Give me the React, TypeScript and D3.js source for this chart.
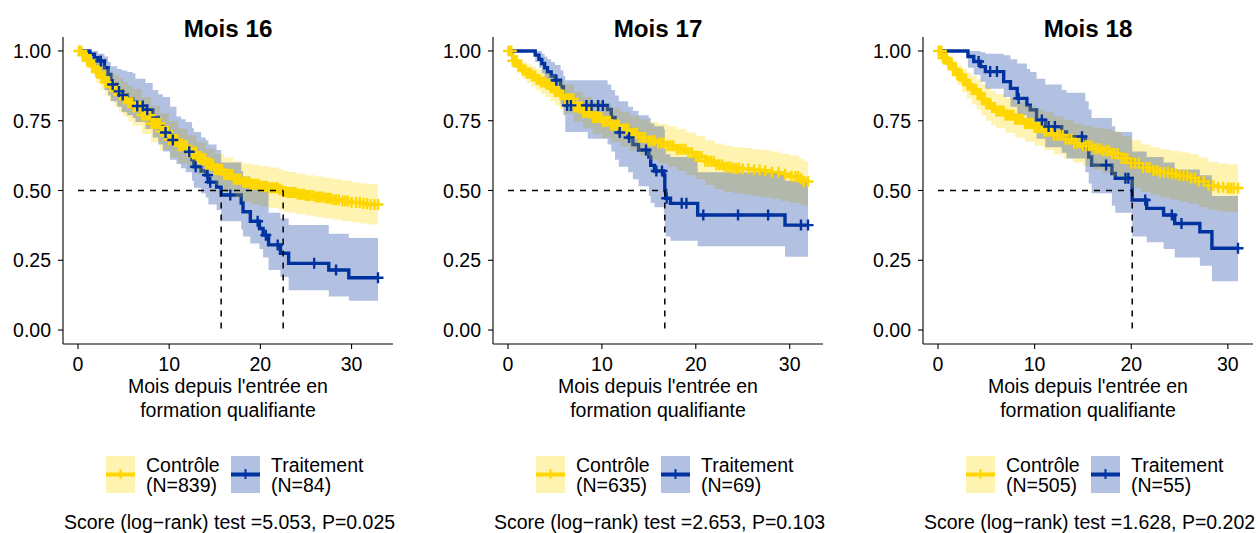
import React from 'react';
import * as d3 from 'd3';

// ---------- DATA ----------
const panelTitles = ['Mois 16', 'Mois 17', 'Mois 18'];
const ctrlN = [839, 635, 505];
const trtN = [84, 69, 55];
const testStat = ['5.053', '2.653', '1.628'];
const testP = ['0.025', '0.103', '0.202'];
const xTicks = [0, 10, 20, 30];
const yTicks = [0, 0.25, 0.5, 0.75, 1];
const yTickLabels = ['0.00', '0.25', '0.50', '0.75', '1.00'];
const groupLabels = ['Contrôle', 'Traitement'];

// Mois 16 - Contrôle
const m16CtrlTime = [0, 0.5, 1, 1.5, 2, 2.5, 3, 3.5, 4, 4.5, 5, 5.5, 6, 7, 8, 9, 10, 11, 12, 13, 14, 15, 16, 17, 18, 19, 20, 21, 22, 22.5, 23, 24, 25, 26, 27, 28, 29, 30, 31, 32];
const m16CtrlSurv = [1, .985, .965, .945, .925, .905, .888, .872, .858, .843, .828, .814, .8, .77, .74, .712, .683, .66, .637, .615, .594, .575, .557, .54, .53, .522, .515, .51, .503, .496, .493, .487, .482, .477, .472, .467, .462, .457, .453, .45];
const m16CtrlLow = [1, .975, .945, .915, .885, .86, .84, .82, .8, .782, .765, .748, .732, .702, .672, .645, .618, .597, .577, .558, .54, .52, .495, .475, .46, .45, .443, .437, .43, .424, .421, .415, .41, .405, .4, .395, .39, .386, .382, .378];
const m16CtrlUp = [1, .995, .985, .975, .962, .948, .935, .92, .912, .9, .888, .876, .864, .835, .805, .777, .748, .722, .698, .673, .65, .632, .618, .605, .597, .592, .587, .582, .576, .57, .566, .56, .555, .55, .545, .54, .535, .53, .525, .522];
const m16CtrlCens = [0.1, 0.2, 0.35, 0.5, 0.6, 0.75, 0.9, 1.0, 1.15, 1.3, 1.4, 1.55, 1.7, 1.85, 2.0, 2.15, 2.3, 2.45, 2.6, 2.7, 2.85, 3.0, 3.1, 3.25, 3.4, 3.55, 3.7, 3.85, 4.0, 4.15, 4.3, 4.45, 4.6, 4.75, 4.9, 5.05, 5.2, 5.35, 5.5, 5.65, 5.8, 5.95, 6.1, 6.25, 6.4, 6.55, 6.7, 6.85, 7.0, 7.15, 7.3, 7.45, 7.6, 7.75, 7.9, 8.05, 8.2, 8.35, 8.5, 8.65, 8.8, 8.95, 9.1, 9.25, 9.4, 9.55, 9.7, 9.85, 10.0, 10.15, 10.3, 10.45, 10.6, 10.75, 10.9, 11.05, 11.2, 11.35, 11.5, 11.65, 11.8, 11.95, 12.1, 12.25, 12.4, 12.6, 12.8, 12.95, 13.1, 13.25, 13.4, 13.6, 13.8, 13.95, 14.1, 14.3, 14.5, 14.65, 14.8, 15.0, 15.2, 15.4, 15.6, 15.8, 16.0, 16.2, 16.4, 16.65, 16.9, 17.1, 17.3, 17.55, 17.8, 18.1, 18.35, 18.6, 18.8, 19.0, 19.25, 19.5, 19.8, 20.05, 20.3, 20.5, 20.7, 21.0, 21.25, 21.5, 21.7, 21.9, 22.1, 22.3, 22.55, 22.8, 23.0, 23.2, 23.4, 23.6, 23.85, 24.1, 24.35, 24.6, 24.8, 25.0, 25.25, 25.5, 25.8, 26.1, 26.35, 26.6, 26.9, 27.2, 27.45, 27.7, 28.0, 28.3, 28.6, 29.0, 29.3, 29.6, 30.0, 30.5, 30.9, 31.3, 31.7, 32.1, 32.5, 32.9];
// Mois 16 - Traitement
const m16TrtTime = [0, 1.3, 1.8, 2.2, 2.9, 3.3, 3.6, 4.3, 4.8, 5.4, 6.0, 6.3, 7.4, 8.2, 8.8, 9.3, 10.1, 10.8, 11.3, 11.8, 12.5, 12.7, 13.5, 14.0, 14.3, 15.2, 15.7, 17.9, 18.1, 18.9, 19.9, 20.3, 20.9, 22.2, 23.1, 27.5, 29.7];
const m16TrtSurv = [1, .988, .976, .964, .94, .916, .88, .855, .842, .829, .816, .803, .789, .762, .735, .708, .681, .667, .653, .639, .61, .585, .57, .555, .53, .512, .484, .455, .424, .39, .364, .34, .305, .275, .239, .215, .1875];
const m16TrtLow = [1, .96, .935, .92, .86, .84, .82, .8, .78, .77, .76, .745, .72, .69, .665, .64, .61, .595, .58, .565, .535, .51, .49, .475, .45, .43, .39, .36, .335, .31, .29, .26, .215, .19, .143, .12, .105];
const m16TrtUp = [1, 1, 1, .99, .98, .96, .945, .935, .93, .925, .92, .9, .885, .86, .845, .835, .8, .765, .755, .745, .725, .71, .69, .68, .665, .645, .6, .57, .55, .53, .52, .5, .42, .4, .376, .345, .33];
const m16TrtCens = [2.5, 3.8, 4.5, 4.9, 6.5, 7.1, 7.6, 9.6, 10.4, 12.2, 12.9, 14.2, 14.5, 16.7, 19.7, 20.6, 21.9, 25.9, 28.3, 32.9];

// Mois 17 - Contrôle
const m17CtrlTime = [0, 0.5, 1, 1.5, 2, 2.5, 3, 3.5, 4, 4.5, 5, 5.5, 6, 7, 8, 9, 10, 11, 12, 13, 14, 15, 16, 17, 18, 19, 20, 21, 22, 23, 24, 25, 26, 27, 28, 29, 30, 31, 31.5];
const m17CtrlSurv = [1, .965, .945, .932, .92, .91, .898, .889, .88, .868, .855, .842, .828, .8, .78, .762, .748, .735, .72, .705, .69, .678, .67, .66, .648, .636, .622, .605, .592, .584, .58, .577, .574, .571, .565, .558, .55, .542, .532];
const m17CtrlLow = [1, .945, .92, .9, .885, .872, .858, .846, .835, .82, .805, .79, .775, .745, .722, .702, .688, .673, .658, .642, .625, .61, .598, .585, .57, .555, .54, .52, .505, .495, .49, .485, .48, .475, .47, .462, .455, .45, .445];
const m17CtrlUp = [1, .985, .97, .96, .952, .945, .935, .93, .922, .914, .902, .892, .88, .855, .836, .82, .806, .795, .782, .768, .755, .745, .738, .73, .72, .708, .695, .68, .668, .66, .655, .652, .648, .645, .64, .632, .625, .615, .605];
const m17CtrlCens = [0.05, 0.2, 0.35, 0.5, 0.65, 0.8, 0.95, 1.1, 1.25, 1.4, 1.55, 1.7, 1.85, 2.0, 2.15, 2.3, 2.45, 2.6, 2.75, 2.9, 3.05, 3.2, 3.35, 3.5, 3.65, 3.8, 3.95, 4.1, 4.25, 4.4, 4.55, 4.7, 4.85, 5.0, 5.15, 5.3, 5.45, 5.6, 5.75, 5.9, 6.05, 6.2, 6.35, 6.5, 6.65, 6.8, 6.95, 7.1, 7.25, 7.4, 7.55, 7.7, 7.85, 8.0, 8.15, 8.3, 8.45, 8.6, 8.75, 8.9, 9.05, 9.2, 9.35, 9.5, 9.65, 9.8, 9.95, 10.1, 10.25, 10.4, 10.55, 10.7, 10.85, 11.0, 11.2, 11.4, 11.6, 11.8, 12.0, 12.2, 12.4, 12.6, 12.8, 13.0, 13.25, 13.5, 13.75, 14.0, 14.3, 14.6, 15.0, 15.3, 15.6, 16.0, 16.3, 16.6, 17.0, 17.3, 17.6, 18.0, 18.3, 18.6, 18.9, 19.2, 19.6, 20.0, 20.3, 20.6, 21.0, 21.3, 21.6, 21.9, 22.2, 22.5, 22.8, 23.1, 23.4, 23.7, 24.0, 24.3, 24.6, 25.0, 25.6, 26.2, 26.8, 27.4, 28.1, 28.8, 29.5, 30.2, 30.6, 30.9, 31.2, 31.5, 31.95];
// Mois 17 - Traitement
const m17TrtTime = [0, 2.9, 3.3, 3.6, 3.9, 4.2, 4.6, 5.0, 5.6, 5.9, 6.1, 8.5, 10.6, 11.0, 11.4, 11.8, 12.8, 13.3, 13.9, 15.0, 15.2, 15.6, 16.6, 16.7, 16.8, 17.3, 20.2, 29.5];
const m17TrtSurv = [1, .985, .97, .955, .94, .925, .91, .895, .872, .84, .805, .805, .79, .762, .735, .708, .69, .665, .645, .62, .59, .57, .555, .5, .472, .454, .412, .376];
const m17TrtLow = [1, .96, .94, .92, .9, .88, .86, .84, .81, .77, .71, .685, .665, .64, .61, .585, .565, .54, .515, .48, .455, .44, .42, .36, .335, .32, .3, .263];
const m17TrtUp = [1, 1, 1, .99, .98, .97, .96, .95, .93, .91, .895, .895, .88, .86, .84, .82, .8, .785, .77, .76, .74, .73, .72, .65, .63, .62, .565, .535];
const m17TrtCens = [5.15, 6.3, 6.7, 8.35, 8.9, 9.6, 10.1, 11.9, 12.9, 14.7, 15.8, 16.4, 16.9, 18.5, 19.0, 20.8, 24.5, 27.7, 31.2, 31.95];

// Mois 18 - Contrôle
const m18CtrlTime = [0, 0.5, 1, 1.5, 2, 2.5, 3, 3.5, 4, 4.5, 5, 5.5, 6, 7, 8, 9, 10, 11, 12, 13, 14, 15, 16, 17, 18, 19, 20, 21, 22, 23, 24, 25, 26, 27, 28, 29, 30];
const m18CtrlSurv = [1, .975, .955, .935, .915, .895, .878, .862, .848, .828, .81, .797, .785, .77, .755, .74, .726, .712, .698, .684, .67, .66, .65, .642, .633, .615, .598, .582, .572, .565, .56, .553, .545, .532, .518, .512, .509];
const m18CtrlLow = [1, .96, .93, .905, .878, .852, .83, .808, .79, .77, .75, .736, .723, .706, .69, .675, .66, .645, .63, .615, .6, .588, .575, .563, .55, .53, .51, .495, .485, .475, .468, .46, .452, .44, .43, .425, .424];
const m18CtrlUp = [1, .99, .978, .965, .95, .935, .922, .91, .898, .882, .868, .856, .845, .832, .818, .805, .792, .78, .766, .753, .74, .732, .725, .72, .712, .695, .68, .665, .655, .648, .642, .636, .63, .618, .603, .597, .594];
const m18CtrlCens = [0.05, 0.2, 0.35, 0.5, 0.65, 0.8, 0.95, 1.1, 1.25, 1.4, 1.55, 1.7, 1.85, 2.0, 2.15, 2.3, 2.45, 2.6, 2.75, 2.9, 3.05, 3.2, 3.35, 3.5, 3.65, 3.8, 3.95, 4.1, 4.25, 4.4, 4.55, 4.7, 4.85, 5.0, 5.15, 5.3, 5.45, 5.6, 5.75, 5.9, 6.05, 6.2, 6.4, 6.6, 6.8, 7.0, 7.2, 7.4, 7.6, 7.8, 8.0, 8.2, 8.4, 8.6, 8.8, 9.0, 9.2, 9.4, 9.6, 9.8, 10.0, 10.2, 10.4, 10.6, 10.8, 11.0, 11.25, 11.5, 11.75, 12.0, 12.3, 12.6, 12.9, 13.2, 13.5, 13.8, 14.1, 14.4, 14.7, 15.0, 15.3, 15.6, 15.9, 16.2, 16.5, 16.8, 17.1, 17.4, 17.7, 18.0, 18.3, 18.6, 19.0, 19.3, 19.6, 20.0, 20.4, 20.8, 21.2, 21.6, 21.9, 22.3, 22.7, 23.0, 23.4, 23.8, 24.2, 24.6, 25.0, 25.4, 25.8, 26.2, 26.6, 27.0, 27.5, 28.0, 28.5, 29.0, 29.5, 30.0, 30.3, 30.6, 31.05];
// Mois 18 - Traitement
const m18TrtTime = [0, 3.1, 3.7, 4.4, 4.9, 6.8, 7.5, 8.2, 9.2, 9.55, 10.2, 11.1, 12.8, 13.3, 15.25, 15.6, 15.9, 18.0, 18.35, 20.1, 21.6, 23.35, 24.5, 27.1, 28.35];
const m18TrtSurv = [1, .98, .962, .944, .926, .89, .866, .83, .806, .789, .753, .729, .71, .693, .651, .62, .591, .561, .544, .466, .436, .412, .382, .352, .293];
const m18TrtLow = [1, .94, .915, .89, .865, .835, .8, .77, .745, .72, .685, .655, .635, .615, .565, .525, .49, .445, .42, .335, .315, .29, .26, .23, .175];
const m18TrtUp = [1, 1, 1, .995, .99, .985, .97, .955, .935, .925, .9, .88, .86, .85, .82, .79, .76, .73, .71, .64, .62, .6, .575, .555, .48];
const m18TrtCens = [4.2, 5.4, 6.1, 8.35, 10.75, 11.45, 12.1, 14.9, 17.4, 19.4, 19.7, 21.45, 24.2, 25.2, 31.05];

// ---------- STRUCTURE ----------
type Group = { time: number[]; surv: number[]; low: number[]; up: number[]; cens: number[] };
const panels: { ctrl: Group; trt: Group }[] = [
  {
    ctrl: { time: m16CtrlTime, surv: m16CtrlSurv, low: m16CtrlLow, up: m16CtrlUp, cens: m16CtrlCens },
    trt: { time: m16TrtTime, surv: m16TrtSurv, low: m16TrtLow, up: m16TrtUp, cens: m16TrtCens },
  },
  {
    ctrl: { time: m17CtrlTime, surv: m17CtrlSurv, low: m17CtrlLow, up: m17CtrlUp, cens: m17CtrlCens },
    trt: { time: m17TrtTime, surv: m17TrtSurv, low: m17TrtLow, up: m17TrtUp, cens: m17TrtCens },
  },
  {
    ctrl: { time: m18CtrlTime, surv: m18CtrlSurv, low: m18CtrlLow, up: m18CtrlUp, cens: m18CtrlCens },
    trt: { time: m18TrtTime, surv: m18TrtSurv, low: m18TrtLow, up: m18TrtUp, cens: m18TrtCens },
  },
];

// ---------- STYLE / LAYOUT ----------
const W = 1258, H = 533;
const FONT = "'Liberation Sans', Arial, Helvetica, sans-serif";
const YELLOW = '#FFD700';
const BLUE = '#0033A0';
const PLOT_LEFT0 = 63, PANEL_STEP = 430, PLOT_W = 330;
const PLOT_TOP = 37, PLOT_BOTTOM = 344;
const FS = 19.5;
const ARM = 5.5;

const endTime = (g: Group) => Math.max(d3.max(g.cens) as number, d3.max(g.time) as number);
const stepAt = (g: Group, t: number) => {
  const i = d3.bisectRight(g.time, t) - 1;
  return g.surv[Math.max(0, i)];
};
const medianOf = (g: Group) => {
  const i = g.surv.findIndex((s) => s <= 0.5);
  return i < 0 ? null : g.time[i];
};

function Panel({ i }: { i: number }) {
  const p = panels[i];
  const left = PLOT_LEFT0 + i * PANEL_STEP;
  const right = left + PLOT_W;
  const cx = (left + right) / 2;
  const tmax = Math.max(endTime(p.ctrl), endTime(p.trt));
  const x = d3.scaleLinear().domain([-0.05 * tmax, 1.05 * tmax]).range([left, right]);
  const y = d3.scaleLinear().domain([-0.05, 1.05]).range([PLOT_BOTTOM, PLOT_TOP]);

  const pts = (g: Group) => {
    const arr = g.time.map((t, k) => [t, g.surv[k], g.low[k], g.up[k]]);
    const n = g.time.length - 1;
    arr.push([endTime(g), g.surv[n], g.low[n], g.up[n]]);
    return arr;
  };
  const line = d3.line<number[]>().x((d) => x(d[0])).y((d) => y(d[1])).curve(d3.curveStepAfter);
  const area = d3.area<number[]>().x((d) => x(d[0])).y0((d) => y(d[2])).y1((d) => y(d[3])).curve(d3.curveStepAfter);
  const marks = (g: Group) =>
    g.cens
      .map((t) => {
        const mx = x(t), my = y(stepAt(g, t));
        return `M${mx - ARM},${my}H${mx + ARM}M${mx},${my - ARM}V${my + ARM}`;
      })
      .join('');

  const meds = [medianOf(p.ctrl), medianOf(p.trt)].filter((m) => m !== null) as number[];
  const maxMed = meds.length ? Math.max(...meds) : null;

  return (
    <g>
      {/* title */}
      <text x={cx} y={36.5} textAnchor="middle" fontFamily={FONT} fontWeight="bold" fontSize={24.2} fill="#000">
        {panelTitles[i]}
      </text>

      {/* curves */}
      <path d={line(pts(p.ctrl)) || ''} fill="none" stroke={YELLOW} strokeWidth={3.4} />
      <path d={line(pts(p.trt)) || ''} fill="none" stroke={BLUE} strokeWidth={3.4} />
      {/* ribbons */}
      <path d={area(pts(p.ctrl)) || ''} fill={YELLOW} fillOpacity={0.3} stroke="none" />
      <path d={area(pts(p.trt)) || ''} fill={BLUE} fillOpacity={0.3} stroke="none" />
      {/* censor marks */}
      <path d={marks(p.ctrl)} fill="none" stroke={YELLOW} strokeWidth={2.4} />
      <path d={marks(p.trt)} fill="none" stroke={BLUE} strokeWidth={2.4} />

      {/* median lines */}
      {maxMed !== null && (
        <line x1={x(0)} x2={x(maxMed)} y1={y(0.5)} y2={y(0.5)} stroke="#000" strokeWidth={1.5} strokeDasharray="6,6" />
      )}
      {meds.map((m, k) => (
        <line key={k} x1={x(m)} x2={x(m)} y1={y(0.5)} y2={y(0)} stroke="#000" strokeWidth={1.5} strokeDasharray="6,6" />
      ))}

      {/* axes */}
      <line x1={left} x2={left} y1={PLOT_TOP} y2={PLOT_BOTTOM} stroke="#000" strokeWidth={1.1} />
      <line x1={left} x2={right} y1={PLOT_BOTTOM} y2={PLOT_BOTTOM} stroke="#000" strokeWidth={1.1} />
      {yTicks.map((v, k) => (
        <g key={k}>
          <line x1={left - 5} x2={left} y1={y(v)} y2={y(v)} stroke="#000" strokeWidth={1.1} />
          <text x={left - 12} y={y(v)} dy="0.36em" textAnchor="end" fontFamily={FONT} fontSize={FS} fill="#000">
            {yTickLabels[k]}
          </text>
        </g>
      ))}
      {xTicks.map((v) => (
        <g key={v}>
          <line x1={x(v)} x2={x(v)} y1={PLOT_BOTTOM} y2={PLOT_BOTTOM + 5} stroke="#000" strokeWidth={1.1} />
          <text x={x(v)} y={371} textAnchor="middle" fontFamily={FONT} fontSize={FS} fill="#000">
            {v}
          </text>
        </g>
      ))}
      <text x={cx} y={393} textAnchor="middle" fontFamily={FONT} fontSize={FS} fill="#000">
        Mois depuis l'entrée en
      </text>
      <text x={cx} y={416.5} textAnchor="middle" fontFamily={FONT} fontSize={FS} fill="#000">
        formation qualifiante
      </text>

      {/* legend */}
      {[0, 1].map((k) => {
        const kx = cx - 122 + k * 125;
        const col = k === 0 ? YELLOW : BLUE;
        const n = k === 0 ? ctrlN[i] : trtN[i];
        return (
          <g key={k}>
            <rect x={kx} y={456} width={29} height={37} fill={col} fillOpacity={0.3} />
            <line x1={kx} x2={kx + 29} y1={474.5} y2={474.5} stroke={col} strokeWidth={4} />
            <path d={`M${kx + 14.5},${469}V${479}`} stroke={col} strokeWidth={2} />
            <text x={kx + 40} y={472} fontFamily={FONT} fontSize={FS} fill="#000">
              {groupLabels[k]}
            </text>
            <text x={kx + 40} y={491.5} fontFamily={FONT} fontSize={FS} fill="#000">
              {`(N=${n})`}
            </text>
          </g>
        );
      })}

      {/* test */}
      <text x={cx + 1.5} y={529} textAnchor="middle" fontFamily={FONT} fontSize={FS} fill="#000">
        {`Score (log−rank) test =${testStat[i]}, P=${testP[i]}`}
      </text>
    </g>
  );
}

export default function App() {
  return (
    <svg width={W} height={H} viewBox={`0 0 ${W} ${H}`} style={{ position: 'absolute', left: 0, top: 0, display: 'block', background: '#fff' }}>
      <rect x={0} y={0} width={W} height={H} fill="#fff" />
      {[0, 1, 2].map((i) => (
        <Panel key={i} i={i} />
      ))}
    </svg>
  );
}
